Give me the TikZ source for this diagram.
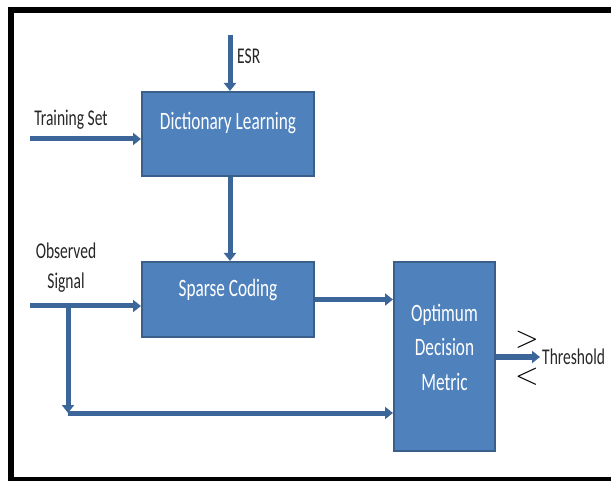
\documentclass[tikz,border=0pt]{standalone}
\usepackage{fontspec}
\setmainfont{Carlito}[FakeStretch=0.69]
\usetikzlibrary{arrows.meta}
\definecolor{boxblue}{HTML}{4F81BD}
\definecolor{boxedge}{HTML}{3A5F8B}
\definecolor{flowblue}{HTML}{3C6699}

\begin{document}
\begin{tikzpicture}[x=1pt,y=-1pt,
    box/.style={draw=boxedge,line width=2pt,fill=boxblue,inner sep=0pt},
    boxtxt/.style={text=white,align=center,inner sep=0pt,font=\fontsize{25}{34.5}\selectfont},
    lbl/.style={text=black!85,align=center,inner sep=0pt,font=\fontsize{22.5}{30}\selectfont},
    cmp/.style={inner sep=0pt,scale=1.25,font=\fontsize{24.88}{24.88}\selectfont},
    flow/.style={draw=flowblue,line width=5pt,-{Triangle[length=8pt,width=12pt]}}]
    \useasboundingbox (0,0) rectangle (611,481);
    \clip (0,0) rectangle (611,481);
    \draw[line width=6pt] (620,10) -- (10.5,10) -- (10.5,479.5) -- (620,479.5);

    \node[box,minimum width=172,minimum height=84] (dict) at (228,134) {};
    \node[box,minimum width=172,minimum height=75] (sparse) at (228,299.5) {};
    \node[box,minimum width=101,minimum height=189] (odm) at (444.5,356.5) {};
    \node[boxtxt] (dicttxt) at ([yshift=11pt]dict.center) {Dictionary Learning};
    \node[boxtxt] (sparsetxt) at ([yshift=9.5pt]sparse.center) {Sparse Coding};
    \node[boxtxt] (odmtxt) at ([yshift=9.5pt]odm.center) {Optimum\\Decision\\Metric};

    \node[lbl,anchor=west] (esr) at (237,56) {ESR};
    \node[lbl] (trainset) at (71,120) {Training Set};
    \node[lbl] (obssig) at (66,268) {Observed\\Signal};
    \node[lbl,anchor=west,inner sep=2pt] (thr) at (540,357) {Threshold};
    \node[cmp] (gt) at (527,340) {$>$};
    \node[cmp] (lt) at (527,377) {$<$};

    \coordinate (esrin) at (230,35);
    \coordinate (trainin) at (30,139);
    \coordinate (obsin) at (30,306);
    \coordinate (branch) at (68,306);
    \coordinate (corner) at (68,413);

    \draw[flow] (esrin) -- (esrin |- dict.north);
    \draw[flow] (trainin) -- (trainin -| dict.west);
    \draw[flow] (esrin |- dict.south) -- (esrin |- sparse.north);
    \draw[flow] (obsin) -- (obsin -| sparse.west);
    \draw[flow] (sparse.east) -- (sparse.east -| odm.west);
    \draw[flow] (branch) -- (corner);
    \draw[flow] (corner) -- (corner -| odm.west);
    \draw[flow] (thr.west -| odm.east) -- (thr.west);
\end{tikzpicture}
\end{document}
